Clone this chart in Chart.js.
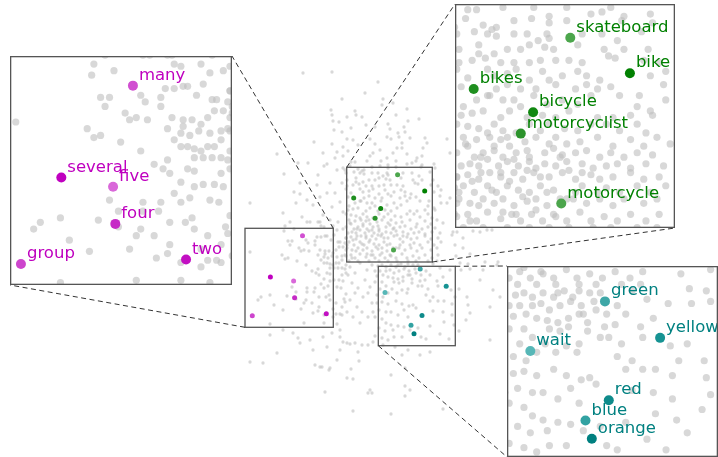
<!DOCTYPE html>
<html><head><meta charset="utf-8">
<script src="https://cdn.jsdelivr.net/npm/chart.js@4.4.1/dist/chart.umd.min.js"></script>
<style>
html,body{margin:0;padding:0;background:#fff;overflow:hidden;}
#wrap{position:relative;width:718px;height:457px;overflow:hidden;}
#wrap canvas{position:absolute;display:block;}
</style></head><body>
<div id="wrap">
<canvas id="cMain" width="718" height="457" style="left:0px;top:0px;width:718px;height:457px"></canvas>
<canvas id="cM" width="222" height="229" style="left:10px;top:56px;width:222px;height:229px"></canvas>
<canvas id="cG" width="220" height="224" style="left:455px;top:4px;width:220px;height:224px"></canvas>
<canvas id="cT" width="211" height="191" style="left:507px;top:266px;width:211px;height:191px"></canvas>
</div>
<script>
// ---- word embedding coordinates (2-D projection) ----
const wordsM = ['many','several','five','four','group','two'];
const xM = [-56.5,-88.6,-65.4,-64.4,-106.7,-32.7];
const yM = [7.7,48.9,53.0,69.7,87.7,85.7];

const wordsG = ['skateboard','bike','bikes','bicycle','motorcyclist','motorcycle'];
const xG = [38.6,65.7,-5.3,21.7,16.1,34.5];
const yG = [-53.3,-37.1,-30.0,-19.4,-9.7,22.1];

const wordsT = ['green','yellow','wait','red','blue','orange'];
const xT = [61.2,87.2,26.0,63.0,52.0,55.0];
const yT = [41.0,58.2,64.4,87.6,97.2,105.8];

// other vocabulary words (gray background)
const grayNearNumbers = [[-74,-2],[-75,3],[-65,1],[-38,-2],[-35,-1],[-26,-2],[-22,2],[-16,1],[-52,-6],[-41,-6],
[-71,13],[-69,17],[-67,13],[-60,20],[-58,23],[-55,22],[-50,23],[-53,12],[-51,15],[-44,13],
[-44,17],[-42,9],[-38,9],[-34,8],[-32,8],[-28,12],[-21,14],[-19,14],[-14,15],[-16,19],
[-20,19],[-23,22],[-26,25],[-30,23],[-34,23],[-39,22],[-34,26],[-41,27],[-38,32],[-35,29],
[-31,30],[-27,28],[-22,29],[-17,28],[-14,27],[-17,32],[-20,35],[-23,35],[-26,37],[-29,36],
[-32,35],[-35,35],[-29,40],[-25,40],[-21,40],[-17,40],[-14,41],[-47,43],[-43,45],[-40,47],
[-32,45],[-29,46],[-35,51],[-29,53],[-25,52],[-20,52],[-16,53],[-13,45],[-17,47],[-22,59],
[-38,56],[-31,58],[-52,60],[-44,60],[-52,64],[-45,64],[-40,69],[-33,69],[-29,72],[-15,71],
[-14,74],[-23,75],[-17,79],[-26,81],[-23,86],[-19,86],[-41,83],[-46,85],[-40,79],[-58,81],
[-55,95],[-35,95],[-22,96],[-76,82],[-85,77],[-89,96],[-89,67],[-98,69],[-101,72],[-72,68],
[-67,59],[-63,64],[-63,71],[-53,72],[-55,75],[-47,75],[-109,24],[-77,27],[-74,31],[-71,30],
[-62,33],[-53,37],[-41,41],[-13,37],[-13,22],[-13,10],[-25,7],[-26,89],[-30,67],[-35,60],
[-18,60],[-13,66],[-35,87],[-17,87]];

const grayNearVehicles = [[-8,-66],[-4,-66],[8,-67],[22,-67],[37,-67],[48,-64],[53,-65],[57,-67],[75,-64],[63,-63],[29,-63],
[-9,-62],[-1,-59],[13,-61],[21,-62],[29,-60],[37,-61],[62,-61],[76,-60],[5,-58],
[-13,-55],[-5,-56],[1,-55],[5,-54],[13,-55],[19,-55],[28,-55],[24,-52],[29,-53],[44,-55],[53,-55],[60,-52],[71,-56],[3,-57],
[-12,-48],[-3,-50],[-3,-46],[4,-46],[10,-48],[16,-48],[20,-50],[27,-49],[31,-48],[42,-50],[54,-48],[63,-48],[74,-48],
[-12,-42],[-6,-43],[0,-44],[7,-42],[13,-42],[20,-42],[25,-43],[32,-43],[38,-43],[44,-42],[56,-45],[59,-44],[72,-43],[79,-42],
[-13,-39],[-8,-35],[1,-39],[4,-36],[10,-37],[14,-39],[20,-34],[26,-38],[29,-34],[35,-36],[42,-38],[46,-36],[52,-34],[75,-36],[82,-38],
[-11,-31],[5,-30],[10,-32],[16,-30],[23,-30],[32,-32],[41,-30],[46,-32],[51,-30],[57,-31],[70,-27],[81,-32],[1,-27],
[-10,-22],[-4,-25],[2,-27],[8,-25],[13,-25],[16,-22],[22,-27],[28,-23],[35,-25],[42,-23],[48,-27],[61,-27],[75,-20],[82,-25],[69,-22],
[-11,-18],[-6,-19],[-1,-20],[7,-17],[11,-20],[19,-17],[26,-18],[32,-17],[38,-20],[51,-17],[58,-17],[66,-18],[76,-18],
[-13,-14],[-8,-13],[-3,-12],[4,-14],[8,-11],[20,-14],[29,-14],[36,-12],[42,-11],[48,-14],[55,-14],[61,-11],[69,-14],[73,-10],
[-10,-8],[-4,-7],[2,-8],[7,-7],[11,-4],[18,-6],[23,-8],[29,-5],[32,-8],[37,-5],[43,-6],[51,-8],[58,-4],[66,-7],[72,-4],[78,-8],[84,-5],
[-13,-1],[-8,-4],[-5,1],[-1,-1],[4,-2],[8,1],[14,-1],[20,1],[27,-1],[31,-3],[35,0],[41,-1],[46,-2],[52,1],[57,-1],[63,1],[69,-1],[76,0],
[-11,5],[-7,4],[-3,5],[1,2],[6,5],[10,3],[15,5],[20,3],[23,6],[27,4],[32,5],[37,3],[44,4],[49,6],[55,5],[60,4],[66,6],[73,4],[81,5],
[-13,10],[-8,9],[-3,11],[2,8],[7,10],[13,8],[17,11],[22,8],[29,10],[35,8],[41,11],[48,9],[52,11],[58,10],[66,8],[72,11],[79,10],
[-10,14],[-5,17],[1,14],[5,17],[10,14],[15,16],[20,17],[25,14],[31,16],[41,17],[44,14],[51,17],[55,15],[61,17],[69,14],[75,17],[82,14],
[-12,20],[-7,22],[-1,20],[4,22],[8,20],[13,23],[19,21],[23,20],[28,23],[40,20],[46,22],[52,20],[58,23],[63,20],[72,22],[78,20],
[-13,28],[-8,27],[-4,30],[1,26],[7,29],[12,27],[16,30],[21,27],[26,30],[32,28],[37,30],[43,26],[48,30],[54,28],[60,30],[66,27],[73,30],[79,27],
[-10,33],[-1,33],[10,33],[20,33],[29,33],[38,33],[49,33],[57,33],[69,33],[78,33],
[-9,-5],[4,-4],[-2,1],[13,2],[7,8],[19,7],[-6,12],[11,12],[25,10],[3,16],[17,19],[-3,23],[28,17],[34,20],[8,26],[23,25],[-7,30],[14,27],[31,27],[37,20],
[1,-10],[14,-10],[25,-11],[10,-8],[19,-2],[34,1],[38,7],[44,8],[-2,8],[-12,17]];

const grayNearColours = [[19,38],[23,37],[27,39],[32,37],[37,39],[42,36],[46,39],[49,36],[54,37],
[16,43],[21,43],[27,43],[31,42],[35,45],[40,43],[45,41],[50,43],[56,41],
[18,48],[24,47],[29,49],[34,50],[39,51],[44,49],[49,47],[53,51],[57,45],[62,47],[67,43],[71,47],
[97,28],[111,26],[101,35],[109,36],[91,42],[102,42],[111,41],[81,40],[74,36],[84,49],[66,52],[78,53],
[16,54],[23,54],[27,58],[35,54],[40,55],[44,53],[53,55],[59,58],[49,61],[43,62],[48,65],[38,65],[33,61],[21,61],
[18,67],[24,69],[29,65],[63,58],[69,61],[79,58],[92,62],[100,61],[108,69],[96,69],[93,76],[85,73],[79,73],[74,69],[67,67],[71,73],
[18,75],[23,74],[29,76],[37,73],[43,76],[50,78],[54,77],[57,80],[20,82],[27,84],[32,84],[39,87],[45,82],[49,89],
[16,89],[23,91],[27,95],[32,97],[20,100],[26,103],[34,102],[39,98],[45,99],[51,102],
[16,108],[23,110],[29,112],[35,109],[43,109],[62,109],[67,111],[59,100],
[74,83],[84,84],[93,87],[111,85],[85,94],[95,97],[90,111],[81,106],[71,98],[107,92],[100,103],[109,77],
[39,37],[59,37],[61,53],[51,47]];

const grayOuter = [[-56,-155],[-27,-156],[19,-146],[6,-135],[-17,-129],[24,-129],[23,-123],[34,-125],[-28,-118],[-4,-117],[48,-119],[-27,-113],[-12,-111],[-3,-113],[3,-111],[37,-113],[60,-109],[-26,-107],[-20,-106],[49,-107],[29,-104],[7,-103],[45,-101],[-25,-98],[-8,-100],[-17,-96],[31,-99],[39,-95],[46,-96],[16,-101],[-6,-88],[-12,-89],[28,-91],[32,-89],[40,-91],[51,-90],[66,-90],[88,-89],[-45,-86],[-27,-84],[11,-89],[16,-84],[43,-85],[68,-85],[-1,-83],[-16,-81],[38,-80],[64,-80],[43,-80],[-36,-75],[-22,-76],[-11,-77],[21,-78],[14,-75],[34,-75],[48,-74],[58,-70],[63,-72],[-82,-74],[-24,-70],[-16,-72],[11,-72],[28,-70],[91,-75],[-51,-65],[-61,-65],[-32,-64],[-16,-60],
[-75,-54],[-65,-36],[-59,-34],[-63,-25],[-41,-53],[-35,-62],[-42,-43],[-29,-45],[-24,-35],[-19,-26],[-27,-21],[-36,-13],[-46,-23],[-52,-28],[-57,-11],[-49,-6],[-39,-6],[-29,-8],[-21,-6],[-69,-6],[-76,-15],[-16,-16],[-17,-45],[-14,-58],[-32,-35],[-39,-31],[-22,-58],[-59,-45],[-109,-25],
[-109,134],[-96,135],[-82,125],[-59,115],[-46,122],[-44,137],[-39,139],[-29,140],[-22,132],[-19,122],[-12,115],[-19,109],[-27,105],[-36,109],[-49,112],[-66,105],[-89,107],[-76,102],[-61,110],[-19,102],
[-32,119],[-16,114],[-9,116],[-4,115],[3,117],[9,117],[14,114],[-1,124],[0,133],[-37,139],[-30,142],[-8,141],[-12,150],[-6,151],[32,147],[43,127],[49,122],[61,127],[71,124],[46,140],[46,158],[51,162],[11,162],[9,165],[13,165],[-34,164],[46,168],[-6,183],[32,186],[84,181],[36,119],[24,117],
[-9,39],[-4,45],[1,35],[8,42],[13,37],[-7,55],[-1,60],[6,52],[11,59],[-9,72],[-2,79],[4,69],[13,75],[-6,89],[1,95],[9,89],[14,84],[-12,84],[-11,47],[3,84],[-4,65],[9,65],
[88,-25],[91,-30],[94,4],[93,7],[98,4],[104,10],[114,3],[121,4],[128,2],[133,2],[96,17],[104,20],[139,34],[126,34],[124,42],[138,37],[134,62],[121,52],[141,69],[131,79],[131,112]];

// ---- views (data ranges) ----
const viewMain = {x:[-359,359], y:[-228,229]};
const zoomM = {x:[-111.6,-12.1], y:[-5.6,97.1]};
const zoomG = {x:[-13.8,86.2], y:[-68.6,33.2]};
const zoomT = {x:[15.0,114.5], y:[24.3,114.4]};
const markM = {x:[-114,-25.7], y:[0.3,99.3]};
const markG = {x:[-12.3,73.3], y:[-60.7,34]};
const markT = {x:[19.3,96.3], y:[38.3,117.7]};

// ---- styles ----
const colorsM = ['#d14fd1','#c000c0','#d968d9','#c62ac6','#cd45cd','#c20fc2'];
const colorsG = ['#4ca64c','#018101','#1f8f1f','#118811','#2c932c','#4ca54c'];
const colorsT = ['#3ea7a7','#169393','#57b7b7','#0f8b8b','#32a2a2','#008080'];
const GRAY = 'rgba(190,190,190,0.6)';

const allGray = grayNearNumbers.concat(grayNearVehicles, grayNearColours, grayOuter);

function pts(xs, ys){ return xs.map((x,i)=>({x:x, y:ys[i]})); }

function buildDatasets(big){
  return [
    {label:'numbers', data:pts(xM,yM), words:wordsM, labelColor:'#bf00bf', pointBackgroundColor:colorsM, pointRadius:big?5:2.5, order:1},
    {label:'vehicles', data:pts(xG,yG), words:wordsG, labelColor:'#008000', pointBackgroundColor:colorsG, pointRadius:big?5:2.5, order:1},
    {label:'colours', data:pts(xT,yT), words:wordsT, labelColor:'#008080', pointBackgroundColor:colorsT, pointRadius:big?5:2.5, order:1},
    {label:'other', data:allGray.map(p=>({x:p[0], y:p[1]})), pointBackgroundColor:GRAY, pointRadius:big?3.6:1.65, order:2}
  ].map(d=>Object.assign(d,{showLine:false, pointBorderWidth:0, pointHoverRadius:d.pointRadius, pointHoverBorderWidth:0}));
}

const bgPlugin = {
  id:'whiteBg',
  beforeDraw(chart){ const c=chart.ctx; c.save(); c.fillStyle='#fff'; c.fillRect(0,0,chart.width,chart.height); c.restore(); }
};

const labelPlugin = {
  id:'wordLabels',
  afterDatasetsDraw(chart, args, opts){
    if(!opts || !opts.show) return;
    const ctx = chart.ctx, area = chart.chartArea;
    chart.data.datasets.forEach((ds,i)=>{
      if(!ds.words) return;
      const meta = chart.getDatasetMeta(i);
      ctx.save();
      ctx.font = '16.5px "DejaVu Sans"';
      ctx.fillStyle = ds.labelColor;
      ctx.textBaseline = 'alphabetic';
      ctx.textAlign = 'left';
      meta.data.forEach((el,j)=>{
        if(el.x < area.left || el.x > area.right || el.y < area.top || el.y > area.bottom) return;
        ctx.fillText(ds.words[j], el.x+6, el.y-6);
      });
      ctx.restore();
    });
  }
};

const framePlugin = {
  id:'frame',
  afterDraw(chart, args, opts){
    if(!opts || !opts.show) return;
    const c = chart.ctx;
    c.save(); c.strokeStyle='#555'; c.lineWidth=1.3;
    c.strokeRect(0.65,0.65,chart.width-1.3,chart.height-1.3);
    c.restore();
  }
};

const insetBoxes = {
  M:{el:'cM', mark:markM, links:[['tr','tr'],['bl','bl']]},
  G:{el:'cG', mark:markG, links:[['tl','tl'],['br','br']]},
  T:{el:'cT', mark:markT, links:[['tr','tl'],['bl','bl']]}
};

function boxCorner(el, k){
  const l = el.offsetLeft, t = el.offsetTop, w = el.offsetWidth, h = el.offsetHeight;
  return {tl:[l,t], tr:[l+w,t], bl:[l,t+h], br:[l+w,t+h]}[k];
}

const markPlugin = {
  id:'marks',
  afterDatasetsDraw(chart){
    const c = chart.ctx, xs = chart.scales.x, ys = chart.scales.y;
    Object.values(insetBoxes).forEach(b=>{
      const x0 = xs.getPixelForValue(b.mark.x[0]), x1 = xs.getPixelForValue(b.mark.x[1]);
      const y0 = ys.getPixelForValue(b.mark.y[0]), y1 = ys.getPixelForValue(b.mark.y[1]);
      c.save();
      c.strokeStyle='#555'; c.lineWidth=1.3;
      c.strokeRect(x0, y0, x1-x0, y1-y0);
      const rc = {tl:[x0,y0], tr:[x1,y0], bl:[x0,y1], br:[x1,y1]};
      const el = document.getElementById(b.el);
      c.strokeStyle='#333'; c.lineWidth=1; c.setLineDash([5,3.5]);
      b.links.forEach(([rk,ik])=>{
        const a = rc[rk], z = boxCorner(el, ik);
        c.beginPath(); c.moveTo(a[0],a[1]); c.lineTo(z[0],z[1]); c.stroke();
      });
      c.restore();
    });
  }
};

function makeChart(id, view, big){
  return new Chart(document.getElementById(id), {
    type:'scatter',
    data:{datasets:buildDatasets(big)},
    options:{
      responsive:false, maintainAspectRatio:false, animation:false, events:[], devicePixelRatio:1,
      layout:{padding:0, autoPadding:false},
      scales:{
        x:{type:'linear', min:view.x[0], max:view.x[1], display:false},
        y:{type:'linear', min:view.y[0], max:view.y[1], reverse:true, display:false}
      },
      plugins:{legend:{display:false}, tooltip:{enabled:false}, wordLabels:{show:big}, frame:{show:big}}
    },
    plugins: big ? [bgPlugin, labelPlugin, framePlugin] : [bgPlugin, markPlugin]
  });
}

makeChart('cMain', viewMain, false);
makeChart('cM', zoomM, true);
makeChart('cG', zoomG, true);
makeChart('cT', zoomT, true);
</script>
</body></html>
